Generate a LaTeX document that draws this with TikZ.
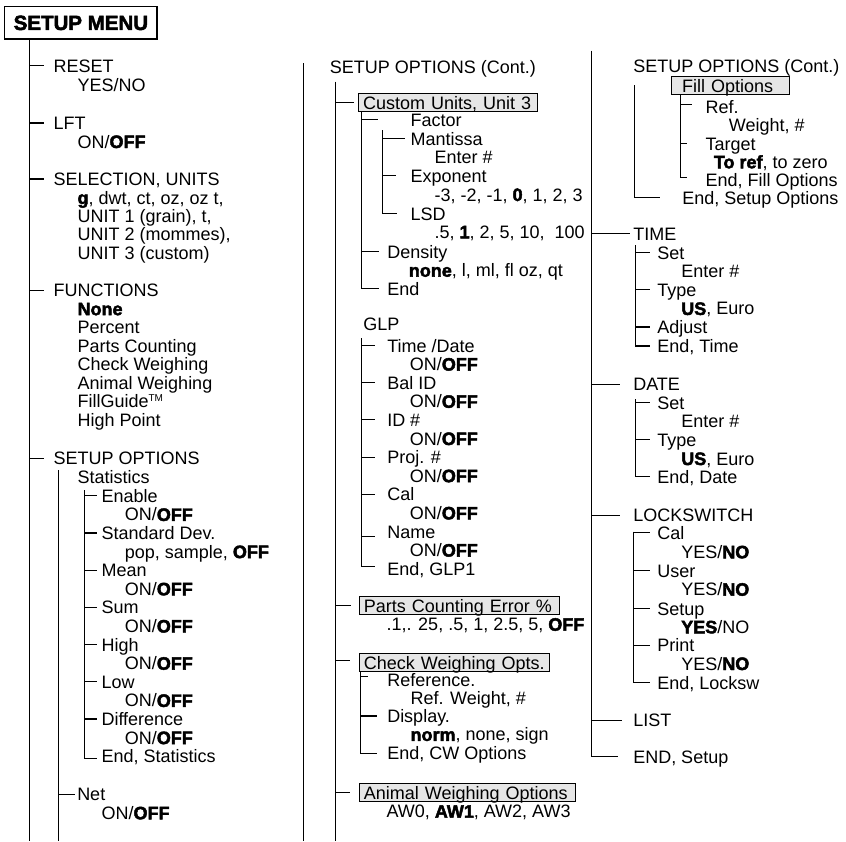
\documentclass[tikz,border=0pt]{standalone}
\usepackage{fontspec}
\setmainfont{Liberation Sans}[BoldFeatures={FakeBold=2.5}]
\definecolor{boxgray}{HTML}{E6E6E6}
\newcommand\bx[1]{{\bfseries #1}}
\newcommand\tck[4][0]{\draw ([yshift=#1]#3.west -| #2,0) -- ([yshift=#1]#3.west -| #4,0);}
\begin{document}
\begin{tikzpicture}[x=1pt,y=-1pt,line width=1.1pt,
  txt/.style={anchor=base west, inner sep=0pt, text height=13pt, text depth=0pt,
    font=\fontsize{18}{18.6}\selectfont},
  gbox/.style={anchor=base west, draw, fill=boxgray, line width=1pt, inner xsep=4.4pt,
    inner ysep=0pt, text height=15.5pt, text depth=2.6pt, align=left,
    font=\fontsize{18}{18.6}\selectfont},
  menu/.style={draw, fill=white, line width=1.2pt, minimum width=152.3pt,
    minimum height=32.3pt, inner sep=0pt, font=\fontsize{20.5}{22}\selectfont\bfseries}]
\useasboundingbox (0,0) rectangle (846,841);

% ---------------- column 1 ----------------
\node[menu] (menu) at (80.9,22.9) {SETUP MENU};
\node[txt] (reset) at (53,72.3) {RESET};
\node[txt] (resetv) at (77,91) {YES/NO};
\node[txt] (lft) at (53,129.5) {LFT};
\node[txt] (lftv) at (77,148) {ON/\bx{OFF}};
\node[txt] (sel) at (53,185.5) {SELECTION, UNITS};
\node[txt] (selv1) at (77,204) {\bx{g}, dwt, ct, oz, oz t,};
\node[txt] (selv2) at (77,222.3) {UNIT 1 (grain), t,};
\node[txt] (selv3) at (77,240.6) {UNIT 2 (mommes),};
\node[txt] (selv4) at (77,259) {UNIT 3 (custom)};
\node[txt] (fun) at (53,296.7) {FUNCTIONS};
\node[txt] (fun1) at (77,315.2) {\bx{None}};
\node[txt] (fun2) at (77,333.7) {Percent};
\node[txt] (fun3) at (77,352.2) {Parts Counting};
\node[txt] (fun4) at (77,370.7) {Check Weighing};
\node[txt] (fun5) at (77,389.2) {Animal Weighing};
\node[txt] (fun6) at (77,407.7) {FillGuide\textsuperscript{\fontsize{10}{10}\selectfont TM}};
\node[txt] (fun7) at (77,426.2) {High Point};
\node[txt] (so) at (53,464.7) {SETUP OPTIONS};
\node[txt] (stat) at (77,483.3) {Statistics};
\node[txt] (en) at (101,502.3) {Enable};
\node[txt] (env) at (124.3,520.9) {ON/\bx{OFF}};
\node[txt] (sd) at (101,539.5) {Standard Dev.};
\node[txt] (sdv) at (124.3,558.1) {pop, sample, \bx{OFF}};
\node[txt] (mean) at (101,576.9) {Mean};
\node[txt] (meanv) at (124.3,595.3) {ON/\bx{OFF}};
\node[txt] (sum) at (101,613.9) {Sum};
\node[txt] (sumv) at (124.3,632.5) {ON/\bx{OFF}};
\node[txt] (high) at (101,651.1) {High};
\node[txt] (highv) at (124.3,669.7) {ON/\bx{OFF}};
\node[txt] (low) at (101,688.3) {Low};
\node[txt] (lowv) at (124.3,706.9) {ON/\bx{OFF}};
\node[txt] (diff) at (101,725.5) {Difference};
\node[txt] (diffv) at (124.3,744.1) {ON/\bx{OFF}};
\node[txt] (endst) at (101,762.9) {End, Statistics};
\node[txt] (net) at (76.7,800.7) {Net};
\node[txt] (netv) at (101,819.3) {ON/\bx{OFF}};

\coordinate (t0bot) at (29.5,841);
\draw (menu.south -| t0bot) -- (t0bot);
\tck{29.5}{reset}{44}
\tck{29.5}{lft}{44}
\tck{29.5}{sel}{44}
\tck{29.5}{fun}{44}
\tck{29.5}{so}{44}
\coordinate (t1top) at (58.5,470);
\coordinate (t1bot) at (58.5,841);
\draw (t1top) -- (t1bot);
\tck{58.5}{net}{75}
\coordinate (t2top) at (84.5,490);
\draw (t2top) |- ([yshift=-2]endst.west -| 97,0);
\foreach \n in {en,sd,mean,sum,high,low,diff} {\tck{84.5}{\n}{97}}

% ---------------- column 2 ----------------
\node[txt] (soc) at (329.3,73.3) {SETUP OPTIONS (Cont.)};
\node[gbox, text width=169.6pt] (cu) at (358.3,109.3) {Custom Units, Unit 3};
\node[txt] (fac) at (410,126) {Factor};
\node[txt] (man) at (410,145) {Mantissa};
\node[txt] (manv) at (434,163.3) {Enter \#};
\node[txt] (exp) at (410,182.3) {Exponent};
\node[txt] (expv) at (434,201) {-3, -2, -1, \bx{0}, 1, 2, 3};
\node[txt] (lsd) at (410,220) {LSD};
\node[txt] (lsdv) at (434,238.3) {.5, \bx{1}, 2, 5, 10,\ \ 100};
\node[txt] (den) at (386.7,258.3) {Density};
\node[txt] (denv) at (408.3,276.7) {\bx{none}, l, ml, fl oz, qt};
\node[txt] (cend) at (386.7,295) {End};
\node[txt] (glp) at (362.7,330.5) {GLP};
\node[txt] (td) at (386.7,352) {Time /Date};
\node[txt] (tdv) at (409.3,370.6) {ON/\bx{OFF}};
\node[txt] (bal) at (386.7,389.2) {Bal ID};
\node[txt] (balv) at (409.3,407.8) {ON/\bx{OFF}};
\node[txt] (idn) at (386.7,426.4) {ID \#};
\node[txt] (idnv) at (409.3,445) {ON/\bx{OFF}};
\node[txt] (proj) at (386.7,463.6) {Proj. \#};
\node[txt] (projv) at (409.3,482.2) {ON/\bx{OFF}};
\node[txt] (gcal) at (386.7,500.8) {Cal};
\node[txt] (gcalv) at (409.3,519.4) {ON/\bx{OFF}};
\node[txt] (name) at (386.7,538) {Name};
\node[txt] (namev) at (409.3,556.6) {ON/\bx{OFF}};
\node[txt] (gend) at (386.7,575.2) {End, GLP1};
\node[gbox, text width=191.5pt] (pc) at (359,612.3) {Parts Counting Error \%};
\node[txt] (pcv) at (386,630.7) {.1,. 25, .5, 1, 2.5, 5, \bx{OFF}};
\node[gbox, text width=181.5pt, text depth=2pt] (cw) at (359,669.3) {Check Weighing Opts.};
\node[txt] (ref) at (386.7,686.3) {Reference.};
\node[txt] (refv) at (410,704.3) {Ref. Weight, \#};
\node[txt] (disp) at (386.7,722.5) {Display.};
\node[txt] (dispv) at (410,740.9) {\bx{norm}, none, sign};
\node[txt] (cwend) at (386.7,759.6) {End, CW Options};
\node[gbox, text width=207.2pt] (aw) at (359,799) {Animal Weighing Options};
\node[txt] (awv) at (386,817.7) {AW0, \bx{AW1}, AW2, AW3};

\coordinate (atop) at (303.5,63.3);
\coordinate (abot) at (303.5,841);
\draw (atop) -- (abot);
\coordinate (btop) at (335.5,81.7);
\coordinate (bbot) at (335.5,841);
\draw (btop) -- (bbot);
\draw (cu.west -| bbot) -- ([xshift=-4]cu.west);
\draw (pc.west -| bbot) -- ([xshift=-8]pc.west);
\draw ([yshift=2]cw.west -| bbot) -- ([yshift=2,xshift=-9]cw.west);
\draw (aw.west -| bbot) -- ([xshift=-9]aw.west);
\draw (cu.south -| 361.5,0) |- (cend.west -| 379,0);
\tck{361.5}{fac}{378}
\tck{361.5}{den}{379}
\coordinate (c2top) at (382.5,130);
\draw (c2top) |- (lsd.west -| 396.7,0);
\tck{382.5}{man}{405}
\tck{382.5}{exp}{396}
\coordinate (gtop) at (361.5,338);
\draw (gtop) |- ([yshift=2]gend.west -| 375,0);
\foreach \n in {td,bal,idn,proj,gcal} {\tck{361.5}{\n}{375}}
\tck[-5]{361.5}{name}{375}
\draw (cw.south -| 360.5,0) |- (cwend.west -| 377,0);
\tck[3]{360.5}{ref}{368}
\tck{360.5}{disp}{377}

% ---------------- column 3 ----------------
\node[txt] (soc2) at (632.7,72.7) {SETUP OPTIONS (Cont.)};
\node[gbox, inner xsep=10.7pt, text width=96.9pt] (fo) at (671,92.3) {Fill Options};
\node[txt] (fref) at (705,113.3) {Ref.};
\node[txt] (frefv) at (728.3,131.7) {Weight, \#};
\node[txt] (targ) at (705,150) {Target};
\node[txt] (targv) at (713.3,168.3) {\bx{To ref}, to zero};
\node[txt] (fend) at (705,186.7) {End, Fill Options};
\node[txt] (send) at (681.7,204) {End, Setup Options};
\node[txt] (time) at (632.7,240) {TIME};
\node[txt] (tset) at (656.7,259.3) {Set};
\node[txt] (tsetv) at (680.7,277.5) {Enter \#};
\node[txt] (ttyp) at (656.7,296.3) {Type};
\node[txt] (ttypv) at (680.7,314.9) {\bx{US}, Euro};
\node[txt] (tadj) at (656.7,333.5) {Adjust};
\node[txt] (tend) at (656.7,352.5) {End, Time};
\node[txt] (date) at (632.7,390.7) {DATE};
\node[txt] (dset) at (656.7,409.3) {Set};
\node[txt] (dsetv) at (680.7,427.7) {Enter \#};
\node[txt] (dtyp) at (656.7,446) {Type};
\node[txt] (dtypv) at (680.7,465) {\bx{US}, Euro};
\node[txt] (dend) at (656.7,483.3) {End, Date};
\node[txt] (lock) at (632.7,521.7) {LOCKSWITCH};
\node[txt] (lcal) at (656.7,539.3) {Cal};
\node[txt] (lcalv) at (680.7,558.3) {YES/\bx{NO}};
\node[txt] (luser) at (656.7,577.3) {User};
\node[txt] (luserv) at (680.7,595.7) {YES/\bx{NO}};
\node[txt] (lset) at (656.7,615) {Setup};
\node[txt] (lsetv) at (680.7,633.3) {\bx{YES}/NO};
\node[txt] (lpr) at (656.7,651.7) {Print};
\node[txt] (lprv) at (680.7,670) {YES/\bx{NO}};
\node[txt] (lend) at (656.7,689.3) {End, Locksw};
\node[txt] (list) at (632.7,726.7) {LIST};
\node[txt] (endsu) at (632.7,763.3) {END, Setup};

\coordinate (dtop) at (591.5,50.7);
\draw (dtop) |- (endsu.west -| 618,0);
\tck{591.5}{time}{630}
\tck{591.5}{date}{620}
\tck{591.5}{lock}{620}
\tck{591.5}{list}{621.7}
\coordinate (etop) at (634.5,85);
\draw (etop) |- (send.west -| 660,0);
\draw (fo.south -| 680.5,0) |- ([yshift=3]fend.west -| 686.7,0);
\tck[2]{680.5}{fref}{691.7}
\tck{680.5}{targ}{686.7}
\coordinate (gtop3) at (635.5,245);
\draw (gtop3) |- (tend.west -| 650,0);
\foreach \n in {tset,ttyp,tadj} {\tck{635.5}{\n}{650}}
\coordinate (htop) at (635.5,399);
\draw (htop) |- (dend.west -| 650,0);
\foreach \n in {dset,dtyp} {\tck{635.5}{\n}{650}}
\coordinate (itop) at (633.5,531.7);
\draw (itop) |- (lend.west -| 650,0);
\foreach \n in {lcal,luser,lset,lpr} {\tck{633.5}{\n}{650}}
\end{tikzpicture}
\end{document}
